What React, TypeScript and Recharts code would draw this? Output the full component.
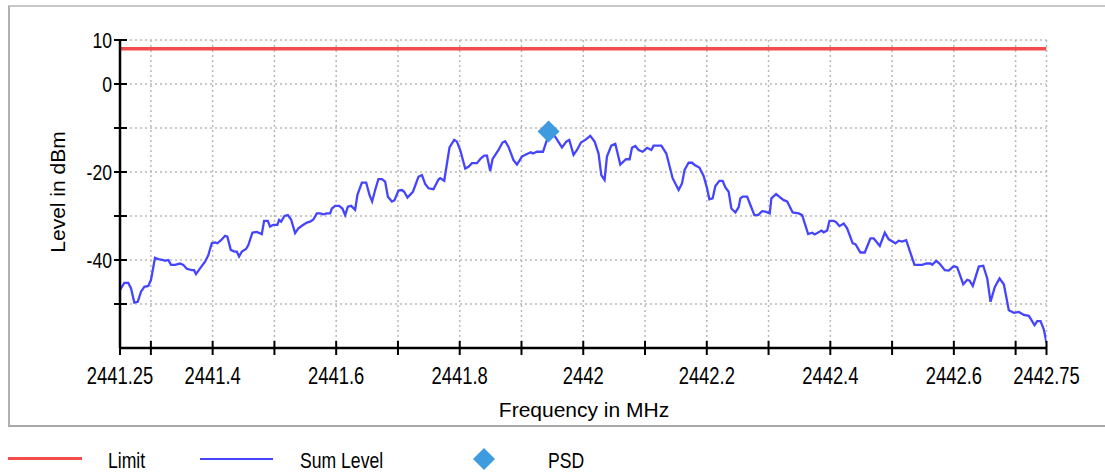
import React from 'react';
import { ComposedChart, Line, Scatter, XAxis, YAxis, CartesianGrid } from 'recharts';

const freqs: number[] = [
  2441.25, 2441.257, 2441.2634, 2441.2678, 2441.2732, 2441.2787, 2441.284, 2441.2894, 2441.2958, 2441.3002,
  2441.3067, 2441.312, 2441.3201, 2441.3229, 2441.3282, 2441.3326, 2441.3391, 2441.3472, 2441.3525, 2441.3581,
  2441.3662, 2441.3699, 2441.3731, 2441.3796, 2441.3877, 2441.393, 2441.3986, 2441.4039, 2441.4076, 2441.4136,
  2441.4201, 2441.4238, 2441.4293, 2441.4352, 2441.4391, 2441.4428, 2441.4472, 2441.4541, 2441.4578, 2441.4643,
  2441.4715, 2441.4796, 2441.4833, 2441.4893, 2441.493, 2441.4983, 2441.5048, 2441.5076, 2441.5108, 2441.5162,
  2441.5217, 2441.527, 2441.5335, 2441.5388, 2441.5469, 2441.5525, 2441.5578, 2441.5631, 2441.5687, 2441.574,
  2441.5793, 2441.5849, 2441.5902, 2441.593, 2441.5983, 2441.6048, 2441.6101, 2441.6145, 2441.6189, 2441.6242,
  2441.6307, 2441.6344, 2441.6416, 2441.6485, 2441.6539, 2441.6582, 2441.6631, 2441.6684, 2441.674, 2441.6793,
  2441.6837, 2441.6902, 2441.6944, 2441.7008, 2441.7064, 2441.7101, 2441.7154, 2441.7242, 2441.7332, 2441.7388,
  2441.7441, 2441.7494, 2441.7575, 2441.7656, 2441.7684, 2441.7749, 2441.7835, 2441.7911, 2441.7955, 2441.8008,
  2441.8089, 2441.8142, 2441.8198, 2441.8279, 2441.8343, 2441.8397, 2441.8441, 2441.8494, 2441.8531, 2441.8628,
  2441.8693, 2441.8737, 2441.879, 2441.8871, 2441.8927, 2441.9007, 2441.9089, 2441.9153, 2441.9186, 2441.925,
  2441.9348, 2441.9412, 2441.9438, 2441.9547, 2441.9656, 2441.9725, 2441.9774, 2441.9843, 2441.9899, 2441.9963,
  2442.0033, 2442.0114, 2442.0184, 2442.0248, 2442.0292, 2442.0345, 2442.0384, 2442.0454, 2442.0519, 2442.06,
  2442.0692, 2442.0751, 2442.0789, 2442.0843, 2442.0896, 2442.0961, 2442.1033, 2442.1102, 2442.1139, 2442.1264,
  2442.1345, 2442.1447, 2442.1544, 2442.1599, 2442.1641, 2442.1706, 2442.1762, 2442.1804, 2442.188, 2442.1949,
  2442.2004, 2442.2042, 2442.2095, 2442.2139, 2442.2204, 2442.2257, 2442.2301, 2442.2354, 2442.2398, 2442.2463,
  2442.2516, 2442.2544, 2442.2581, 2442.2653, 2442.2706, 2442.2771, 2442.2831, 2442.2896, 2442.2949, 2442.3019,
  2442.3046, 2442.3122, 2442.3192, 2442.3245, 2442.3301, 2442.3391, 2442.3488, 2442.3544, 2442.3641, 2442.3706,
  2442.3748, 2442.3856, 2442.3893, 2442.3949, 2442.3986, 2442.4055, 2442.4094, 2442.4148, 2442.4217, 2442.4272,
  2442.4363, 2442.4407, 2442.4488, 2442.4558, 2442.465, 2442.4703, 2442.4801, 2442.4882, 2442.4946, 2442.5055,
  2442.5108, 2442.5163, 2442.5228, 2442.5363, 2442.5487, 2442.5557, 2442.5622, 2442.565, 2442.5714, 2442.5768,
  2442.5854, 2442.5918, 2442.5999, 2442.6055, 2442.6152, 2442.6217, 2442.6254, 2442.6307, 2442.6404, 2442.6476,
  2442.6541, 2442.6594, 2442.6664, 2442.674, 2442.6809, 2442.689, 2442.6972, 2442.7052, 2442.7133, 2442.7214,
  2442.7307, 2442.735, 2442.7404, 2442.7457, 2442.75,
];

const levels: number[] = [
  -46.8, -45.2, -45.2, -46.4, -49.7, -49.5, -47.2, -46.1, -45.9, -44.5,
  -39.5, -39.8, -40, -40.2, -40, -41.1, -41.1, -40.8, -41.1, -42,
  -42.3, -42.3, -43.2, -41.9, -40.4, -38.9, -36.2, -36, -36.2, -35.5,
  -34.5, -34.7, -37.7, -38.1, -38.1, -39.2, -38.1, -37.5, -36.6, -33.8,
  -33.6, -34.1, -31.1, -31.1, -32.4, -32, -32, -30.9, -31.3, -30,
  -29.8, -30.8, -33.9, -32.8, -32, -31.5, -31.3, -30.8, -29.4, -29.4,
  -29.6, -29.4, -29.4, -28.3, -27.7, -27.7, -28.3, -29.8, -27.9, -27.7,
  -28.6, -25.2, -22.4, -22.4, -25.2, -26.7, -24.1, -21.6, -21.6, -22.2,
  -25.6, -26.7, -26.4, -24.2, -24.1, -24.5, -25.8, -24.5, -21.1, -20.7,
  -22.7, -23.7, -23.9, -21.7, -21.4, -22, -14.4, -12.7, -13.1, -15,
  -19.2, -18.8, -18, -18, -16.9, -16.3, -16.3, -19.8, -17.1, -15,
  -13.3, -13, -14.3, -17.3, -18.3, -16.5, -15.9, -15.5, -15.8, -15.4,
  -15.4, -12.7, -11.3, -12, -14.4, -13.1, -12.7, -16.1, -15, -13.3,
  -12.7, -11.8, -13.1, -15.8, -20.7, -21.8, -16.5, -14, -13.6, -18.3,
  -17.1, -17.1, -14.5, -14.1, -15, -15.4, -14.5, -15, -14, -14,
  -15.8, -21.4, -24.1, -22.6, -19.5, -17.9, -17.9, -18.4, -19, -20.9,
  -23.7, -26.2, -26, -23.2, -22, -22, -23.5, -24.5, -28.3, -29.2,
  -28, -26, -25.6, -25.6, -27.5, -29.8, -29.8, -28.9, -29, -29.4,
  -26, -25, -25.8, -26.4, -26.7, -29.2, -29.4, -29.8, -34.1, -33.8,
  -34.2, -33.3, -33.7, -33.3, -31.1, -31.1, -31.4, -32.3, -31.7, -32.8,
  -36.2, -36.4, -38.3, -38.3, -35.1, -35.1, -36.8, -33.8, -35.3, -36.2,
  -35.6, -35.8, -35.5, -41.1, -41.1, -40.8, -40.8, -41.1, -40.2, -40.8,
  -42.3, -42.4, -41.4, -41.7, -45.5, -44.5, -44.7, -45.9, -41.5, -41.3,
  -44.2, -49.5, -46.1, -44.2, -45.5, -51.4, -52, -51.8, -52.5, -52.7,
  -54.8, -53.9, -53.9, -55.8, -58.8,
];

const limitFreqs: number[] = [2441.25, 2442.75];
const limitLevels: number[] = [8, 8];

const psdFreq: number[] = [2441.9438];
const psdLevel: number[] = [-10.8];

const xTicks: number[] = [
  2441.25, 2441.3, 2441.4, 2441.5, 2441.6, 2441.7, 2441.8, 2441.9, 2442,
  2442.1, 2442.2, 2442.3, 2442.4, 2442.5, 2442.6, 2442.7, 2442.75,
];
const xTickLabels: Record<string, string> = {
  '2441.25': '2441.25', '2441.4': '2441.4', '2441.6': '2441.6', '2441.8': '2441.8',
  '2442': '2442', '2442.2': '2442.2', '2442.4': '2442.4', '2442.6': '2442.6', '2442.75': '2442.75',
};
const yTicks: number[] = [10, 0, -10, -20, -30, -40, -50, -60];
const yTickLabels: Record<string, string> = { '10': '10', '0': '0', '-20': '-20', '-40': '-40' };

const sumData = freqs.map((f, i) => ({ f, v: levels[i] }));
const limitData = limitFreqs.map((f, i) => ({ f, v: limitLevels[i] }));
const psdData = psdFreq.map((f, i) => ({ f, v: psdLevel[i] }));

const TICK_FONT = "'Liberation Sans', Arial, sans-serif";
const LABEL_FONT = "'Liberation Sans', Arial, sans-serif";
const SQUEEZE = 0.8;

const XTick = (props: any) => {
  const { x, y, payload } = props;
  const axisY = y - 8;
  const label = xTickLabels[String(payload.value)];
  return (
    <g>
      <line x1={x} x2={x} y1={axisY - 7} y2={axisY + 7} stroke="#000" strokeWidth={2} />
      {label && (
        <text
          transform={`translate(${x},${axisY + 28}) scale(${SQUEEZE},1)`}
          x={0}
          y={0}
          textAnchor="middle"
          dominantBaseline="central"
          fontSize={23}
          fontFamily={TICK_FONT}
          fill="#000"
        >
          {label}
        </text>
      )}
    </g>
  );
};

const YTick = (props: any) => {
  const { x, y, payload } = props;
  const axisX = x + 8;
  const label = yTickLabels[String(payload.value)];
  if (payload.value === -60) return <g />;
  return (
    <g>
      <line x1={axisX - 6} x2={axisX + 7} y1={y} y2={y} stroke="#000" strokeWidth={2} />
      {label && (
        <text
          transform={`translate(${axisX - 8},${y}) scale(${SQUEEZE},1)`}
          x={0}
          y={0}
          textAnchor="end"
          dominantBaseline="central"
          fontSize={22}
          fontFamily={TICK_FONT}
          fill="#000"
        >
          {label}
        </text>
      )}
    </g>
  );
};

const Diamond = (props: any) => {
  const { cx, cy } = props;
  const r = 11;
  return <polygon points={`${cx},${cy - r} ${cx + r},${cy} ${cx},${cy + r} ${cx - r},${cy}`} fill="#3f9be0" />;
};

const legendText: React.CSSProperties = {
  position: 'absolute', top: 461, transform: `translateY(-50%) scaleX(${SQUEEZE})`, transformOrigin: 'left center',
  fontFamily: TICK_FONT, fontSize: 22, color: '#000', whiteSpace: 'nowrap',
};

export default function App() {
  return (
    <div style={{ position: 'absolute', left: 0, top: 0, width: 1105, height: 475, overflow: 'hidden', background: '#fff' }}>
      <div
        style={{
          position: 'absolute', left: 8, top: 5, width: 1110, height: 418,
          borderTop: '2px solid #c8c8c8', borderLeft: '2px solid #b0b0b0', borderBottom: '2px solid #a8a8a8',
        }}
      />
      <div style={{ position: 'absolute', left: 0, top: 0 }}>
        <ComposedChart width={1105} height={475} margin={{ top: 40, right: 58.5, bottom: 97, left: 60 }}>
          <CartesianGrid stroke="#b8b8b8" strokeDasharray="2 3" strokeWidth={1.5} vertical horizontal />
          <XAxis
            dataKey="f"
            type="number"
            domain={[2441.25, 2442.75]}
            ticks={xTicks}
            allowDataOverflow
            interval={0}
            height={30}
            tickSize={0}
            tickMargin={8}
            tick={<XTick />}
            axisLine={{ stroke: '#000', strokeWidth: 2.5 }}
            tickLine={false}
          />
          <YAxis
            dataKey="v"
            type="number"
            domain={[-60, 10]}
            ticks={yTicks}
            allowDataOverflow
            interval={0}
            width={60}
            tickSize={0}
            tickMargin={8}
            tick={<YTick />}
            axisLine={{ stroke: '#000', strokeWidth: 2.5 }}
            tickLine={false}
          />
          <Line data={limitData} dataKey="v" stroke="#f24c4c" strokeWidth={3.5} dot={false} isAnimationActive={false} />
          <Line data={sumData} dataKey="v" stroke="#4545ff" strokeWidth={2.3} dot={false} isAnimationActive={false} />
          <Scatter data={psdData} dataKey="v" shape={<Diamond />} isAnimationActive={false} />
        </ComposedChart>
      </div>
      <div
        style={{
          position: 'absolute', left: 58, top: 192, transform: 'translate(-50%, -50%) rotate(-90deg)',
          fontFamily: LABEL_FONT, fontSize: 21, whiteSpace: 'nowrap', color: '#000',
        }}
      >
        Level in dBm
      </div>
      <div
        style={{
          position: 'absolute', left: 584, top: 410, transform: 'translate(-50%, -50%)',
          fontFamily: LABEL_FONT, fontSize: 21, whiteSpace: 'nowrap', color: '#000',
        }}
      >
        Frequency in MHz
      </div>
      <div style={{ position: 'absolute', left: 8, top: 457, width: 74, height: 3, background: '#f24c4c' }} />
      <div style={{ ...legendText, left: 108 }}>Limit</div>
      <div style={{ position: 'absolute', left: 200, top: 458, width: 73, height: 1.5, background: '#4545ff' }} />
      <div style={{ ...legendText, left: 300 }}>Sum Level</div>
      <svg style={{ position: 'absolute', left: 473, top: 448 }} width={22} height={22}>
        <polygon points="11,0 22,11 11,22 0,11" fill="#3f9be0" />
      </svg>
      <div style={{ ...legendText, left: 548 }}>PSD</div>
    </div>
  );
}
